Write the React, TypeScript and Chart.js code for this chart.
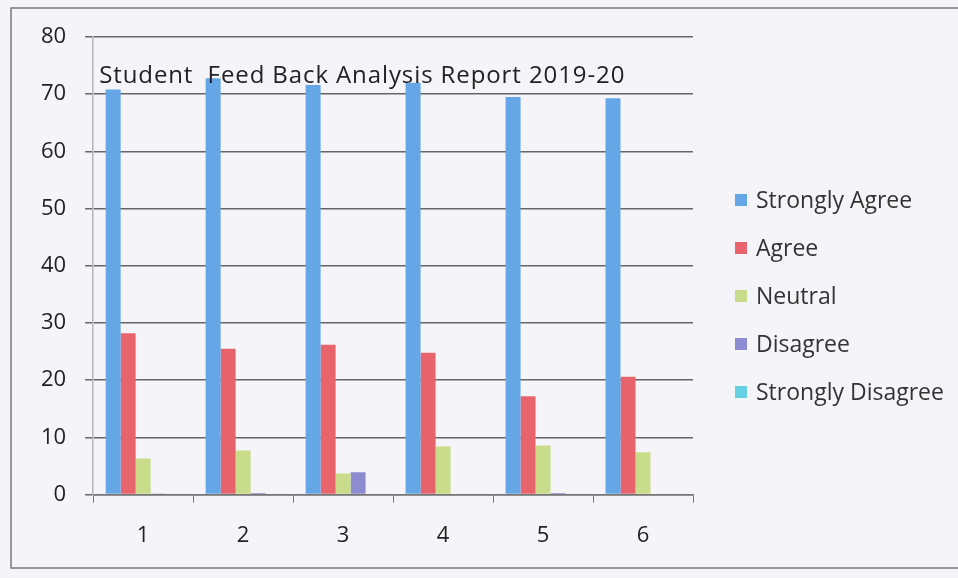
import React, { useEffect, useRef } from "react";
import { Chart, registerables } from "chart.js";

Chart.register(...registerables);

const categories = ["1", "2", "3", "4", "5", "6"];
const seriesNames = ["Strongly Agree", "Agree", "Neutral", "Disagree", "Strongly Disagree"];
const stronglyAgree = [70.8, 72.8, 71.6, 72.0, 69.5, 69.3];
const agree = [28.2, 25.5, 26.2, 24.8, 17.2, 20.6];
const neutral = [6.3, 7.7, 3.7, 8.4, 8.6, 7.4];
const disagree = [0.2, 0.3, 3.9, 0, 0.3, 0];
const stronglyDisagree = [0, 0, 0, 0, 0, 0];
const seriesColors = ["#65a7e6", "#e8646c", "#c9dc8a", "#8d8cd0", "#66cfe2"];
const titleText = "Student  Feed Back Analysis Report 2019-20";
const yMin = 0;
const yMax = 80;
const yStep = 10;

const FONT = "'Open Sans', Lato, sans-serif";
const BG = "#f5f5f9";

const backgroundPlugin = {
  id: "bgBorder",
  beforeDraw(chart: any) {
    const { ctx, width, height } = chart;
    ctx.save();
    ctx.fillStyle = BG;
    ctx.fillRect(0, 0, width, height);
    ctx.strokeStyle = "#7a7a7a";
    ctx.lineWidth = 1.5;
    ctx.beginPath();
    ctx.moveTo(width + 5, 8);
    ctx.lineTo(11, 8);
    ctx.lineTo(11, 568);
    ctx.lineTo(width + 5, 568);
    ctx.stroke();
    ctx.restore();
  },
};

const titlePlugin = {
  id: "insideTitle",
  afterDatasetsDraw(chart: any) {
    const { ctx, chartArea } = chart;
    ctx.save();
    ctx.font = `24px ${FONT}`;
    try {
      (ctx as any).letterSpacing = "0.9px";
    } catch (e) {}
    ctx.fillStyle = "#222";
    ctx.textBaseline = "middle";
    ctx.textAlign = "left";
    ctx.fillText(titleText, chartArea.left + 6, 76);
    ctx.restore();
  },
};

const sideLegendPlugin = {
  id: "sideLegend",
  afterDraw(chart: any) {
    const { ctx, chartArea } = chart;
    const x0 = chartArea.right + 42;
    const y0 = 200;
    const step = 48;
    ctx.save();
    ctx.font = `23px ${FONT}`;
    ctx.textBaseline = "middle";
    ctx.textAlign = "left";
    chart.data.datasets.forEach((ds: any, i: number) => {
      const y = y0 + i * step;
      ctx.fillStyle = ds.backgroundColor;
      ctx.fillRect(x0, y - 6, 12, 12);
      ctx.fillStyle = "#333";
      ctx.fillText(ds.label, x0 + 21, y + 1);
    });
    ctx.restore();
  },
};

export default function App() {
  const ref = useRef<HTMLCanvasElement>(null);
  useEffect(() => {
    const series = [stronglyAgree, agree, neutral, disagree, stronglyDisagree];
    const chart = new Chart(ref.current!, {
      type: "bar",
      data: {
        labels: categories,
        datasets: series.map((d, i) => ({
          label: seriesNames[i],
          data: d,
          backgroundColor: seriesColors[i],
          borderWidth: 0,
          categoryPercentage: 0.75,
          barPercentage: 1,
        })),
      },
      plugins: [backgroundPlugin, titlePlugin, sideLegendPlugin],
      options: {
        animation: false,
        responsive: false,
        devicePixelRatio: 1,
        layout: { padding: { left: 22, top: 37, bottom: 9, right: 265 } },
        plugins: {
          tooltip: { enabled: false },
          title: { display: false },
          legend: { display: false },
        },
        scales: {
          x: {
            grid: {
              display: true,
              drawOnChartArea: false,
              drawTicks: true,
              tickLength: 8,
              color: "#777",
              offset: true,
            },
            border: { display: true, color: "#777", width: 1.5 },
            ticks: { color: "#222", padding: 20, font: { family: FONT, size: 22 } },
          },
          y: {
            min: yMin,
            max: yMax,
            ticks: { stepSize: yStep, color: "#222", padding: 19, font: { family: FONT, size: 22 } },
            grid: { color: "#666", lineWidth: 1.5, tickLength: 8 },
            border: { display: true, color: "#b5b5b5", width: 1.5 },
          },
        },
      },
    } as any);
    return () => chart.destroy();
  }, []);
  return (
    <div style={{ position: "fixed", left: 0, top: 0, width: 958, height: 578, background: BG }}>
      <canvas ref={ref} width={958} height={578} style={{ width: 958, height: 578, display: "block" }} />
    </div>
  );
}
